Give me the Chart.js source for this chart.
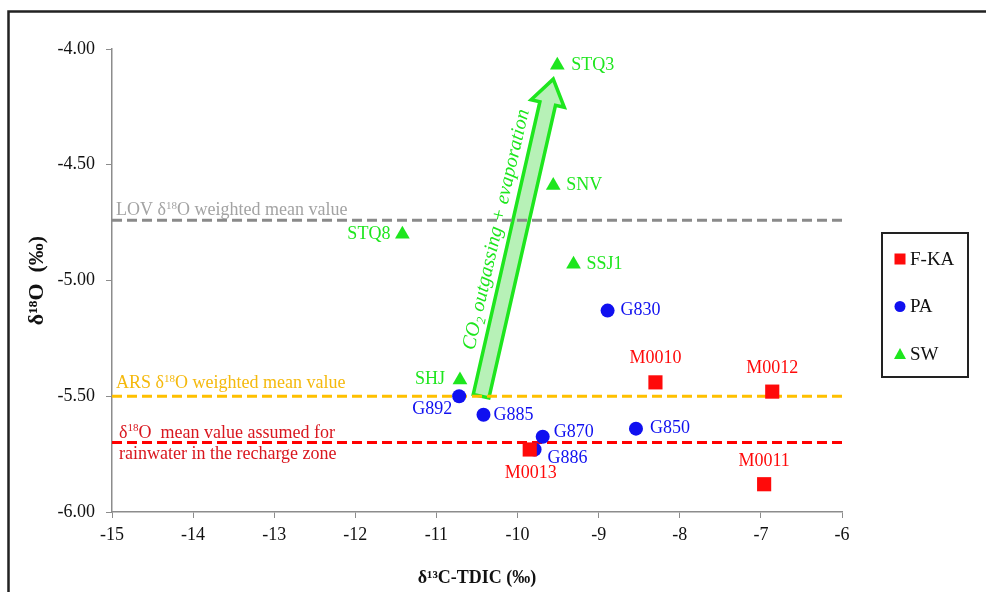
<!DOCTYPE html>
<html>
<head>
<meta charset="utf-8">
<script src="https://cdn.jsdelivr.net/npm/chart.js@4.4.1/dist/chart.umd.min.js"></script>
<style>
  html, body { margin: 0; padding: 0; background: #fff; }
  #wrap { width: 986px; height: 592px; }
</style>
</head>
<body>
<div id="wrap"><canvas id="isoChart" width="986" height="592"></canvas></div>
<script>
// F-KA wells
const fkaNames = ['M0010', 'M0012', 'M0013', 'M0011'];
const fkaX = [-8.30, -6.86, -9.85, -6.96];
const fkaY = [-5.44, -5.48, -5.73, -5.88];

// PA wells
const paNames = ['G830', 'G892', 'G885', 'G870', 'G886', 'G850'];
const paX = [-8.89, -10.72, -10.42, -9.69, -9.79, -8.54];
const paY = [-5.13, -5.50, -5.58, -5.675, -5.73, -5.64];

// SW (surface water)
const swNames = ['STQ3', 'SNV', 'STQ8', 'SSJ1', 'SHJ'];
const swX = [-9.51, -9.56, -11.42, -9.31, -10.71];
const swY = [-4.07, -4.59, -4.80, -4.93, -5.43];

// reference d18O values
const lovMean = -4.74;
const arsMean = -5.50;
const rainMean = -5.70;

// axis ranges
const xMin = -15, xMax = -6, xStep = 1;
const yMin = -6.0, yMax = -4.0, yStep = 0.5;

// trend arrow (tail -> tip, in data units)
const arrowFrom = { x: -10.45, y: -5.50 };
const arrowTo = { x: -9.56, y: -4.13 };

const SERIF = '"Liberation Serif", "Times New Roman", serif';
const GREEN = '#1ee61e';
const BLUE = '#1010f0';
const RED = '#ff0a0a';

const toPoints = (xs, ys) => xs.map((x, i) => ({ x: x, y: ys[i] }));
const hLine = v => [{ x: xMin, y: v }, { x: xMax, y: v }];

// where each point's name goes, relative to its marker
const labelPos = {
    M0010: ['c', 0, -24], M0012: ['c', 0, -23], M0013: ['c', 1, 24], M0011: ['c', 0, -23],
    G830: ['l', 13, 0], G892: ['r', -7, 13], G885: ['l', 10, 0], G870: ['l', 11, -4],
    G886: ['l', 13, 9], G850: ['l', 14, 0],
    STQ3: ['l', 14, 0], SNV: ['l', 13, 0], STQ8: ['r', -12, 0], SSJ1: ['l', 13, 0], SHJ: ['r', -15, -1]
};

// text with a small raised part: parts = [[text, sup?], ...]
function drawRich(ctx, parts, x, y, size) {
    let cx = x;
    parts.forEach(p => {
        const sup = p[1];
        ctx.font = (sup ? Math.round(size * 0.62) : size) + 'px ' + SERIF;
        ctx.fillText(p[0], cx, sup ? y - size * 0.36 : y);
        cx += ctx.measureText(p[0]).width;
    });
}

const decorPlugin = {
    id: 'decor',
    beforeDatasetsDraw(chart) {
        const ctx = chart.ctx;
        const xs = chart.scales.x, ys = chart.scales.y;
        const ax = xs.getPixelForValue(arrowFrom.x), ay = ys.getPixelForValue(arrowFrom.y);
        const bx = xs.getPixelForValue(arrowTo.x), by = ys.getPixelForValue(arrowTo.y);
        const len = Math.hypot(bx - ax, by - ay);
        const ux = (bx - ax) / len, uy = (by - ay) / len;
        const nx = -uy, ny = ux;
        const sw = 8, hw = 17, hl = 25;
        const hx = bx - ux * hl, hy = by - uy * hl;
        ctx.save();
        ctx.beginPath();
        ctx.moveTo(ax + nx * sw, ay + ny * sw);
        ctx.lineTo(hx + nx * sw, hy + ny * sw);
        ctx.lineTo(hx + nx * hw, hy + ny * hw);
        ctx.lineTo(bx, by);
        ctx.lineTo(hx - nx * hw, hy - ny * hw);
        ctx.lineTo(hx - nx * sw, hy - ny * sw);
        ctx.lineTo(ax - nx * sw, ay - ny * sw);
        ctx.closePath();
        ctx.fillStyle = 'rgba(175, 240, 175, 0.9)';
        ctx.fill();
        ctx.lineWidth = 3.5;
        ctx.lineJoin = 'miter';
        ctx.strokeStyle = GREEN;
        ctx.stroke();

        // rotated caption along the arrow
        const t = 0.51;
        const cx = ax + (bx - ax) * t - nx * 22, cy = ay + (by - ay) * t - ny * 22;
        ctx.translate(cx, cy);
        ctx.rotate(Math.atan2(uy, ux));
        ctx.fillStyle = GREEN;
        ctx.textBaseline = 'middle';
        const big = 'italic 20px ' + SERIF, small = 'italic 13px ' + SERIF;
        const p1 = 'CO', p2 = '2', p3 = ' outgassing + evaporation';
        ctx.font = big;
        const w1 = ctx.measureText(p1).width, w3 = ctx.measureText(p3).width;
        ctx.font = small;
        const w2 = ctx.measureText(p2).width;
        const sx = -(w1 + w2 + w3) / 2;
        ctx.font = big;
        ctx.fillText(p1, sx, 0);
        ctx.font = small;
        ctx.fillText(p2, sx + w1, 6);
        ctx.font = big;
        ctx.fillText(p3, sx + w1 + w2, 0);
        ctx.restore();
    },
    afterDatasetsDraw(chart) {
        const ctx = chart.ctx;
        const xs = chart.scales.x, ys = chart.scales.y;
        const left = chart.chartArea.left;
        ctx.save();
        ctx.textBaseline = 'alphabetic';
        ctx.textAlign = 'left';

        // reference line captions
        ctx.fillStyle = '#a3a3a3';
        drawRich(ctx, [['LOV δ'], ['18', 1], ['O weighted mean value']], left + 4, ys.getPixelForValue(lovMean) - 5, 18);
        ctx.fillStyle = '#f5b90c';
        drawRich(ctx, [['ARS δ'], ['18', 1], ['O weighted mean value']], left + 4, ys.getPixelForValue(arsMean) - 8, 18);
        ctx.fillStyle = '#d9161e';
        drawRich(ctx, [['δ'], ['18', 1], ['O  mean value assumed for']], left + 7, ys.getPixelForValue(rainMean) - 5, 18);
        drawRich(ctx, [['rainwater in the recharge zone']], left + 7, ys.getPixelForValue(rainMean) + 16, 18);

        // point names
        ctx.font = '18px ' + SERIF;
        ctx.textBaseline = 'middle';
        const groups = [[fkaNames, fkaX, fkaY, RED], [paNames, paX, paY, BLUE], [swNames, swX, swY, GREEN]];
        groups.forEach(g => {
            ctx.fillStyle = g[3];
            g[0].forEach((name, i) => {
                const pos = labelPos[name];
                const px = xs.getPixelForValue(g[1][i]) + pos[1];
                const py = ys.getPixelForValue(g[2][i]) + pos[2];
                ctx.textAlign = pos[0] === 'c' ? 'center' : (pos[0] === 'r' ? 'right' : 'left');
                ctx.fillText(name, px, py);
            });
        });
        ctx.restore();
    },
    afterDraw(chart) {
        const ctx = chart.ctx;
        ctx.save();
        // outer frame
        ctx.strokeStyle = '#222';
        ctx.lineWidth = 2.5;
        ctx.beginPath();
        ctx.moveTo(8.5, 600);
        ctx.lineTo(8.5, 11.5);
        ctx.lineTo(1000, 11.5);
        ctx.stroke();

        // legend box
        const lx = 882, ly = 233, lw = 86, lh = 144;
        ctx.lineWidth = 2;
        ctx.strokeRect(lx, ly, lw, lh);
        const items = chart.data.datasets.filter(d => d.legend);
        ctx.font = '19px ' + SERIF;
        ctx.textBaseline = 'middle';
        ctx.textAlign = 'left';
        items.forEach((d, i) => {
            const cy = ly + 26 + i * 47.5;
            const mx = lx + 18;
            ctx.fillStyle = d.backgroundColor;
            if (d.pointStyle === 'rect') {
                ctx.fillRect(mx - 5.5, cy - 5.5, 11, 11);
            } else if (d.pointStyle === 'circle') {
                ctx.beginPath();
                ctx.arc(mx, cy, 5.5, 0, Math.PI * 2);
                ctx.fill();
            } else {
                ctx.beginPath();
                ctx.moveTo(mx, cy - 6);
                ctx.lineTo(mx + 6, cy + 5);
                ctx.lineTo(mx - 6, cy + 5);
                ctx.closePath();
                ctx.fill();
            }
            ctx.fillStyle = '#111';
            ctx.fillText(d.label, lx + 28, cy + 1);
        });
        ctx.restore();
    }
};

const ctx = document.getElementById('isoChart').getContext('2d');
new Chart(ctx, {
    type: 'scatter',
    data: {
        datasets: [
            { label: 'F-KA', legend: true, data: toPoints(fkaX, fkaY), pointStyle: 'rect', pointRadius: 10,
              backgroundColor: RED, borderColor: RED, borderWidth: 0, order: 1 },
            { label: 'PA', legend: true, data: toPoints(paX, paY), pointStyle: 'circle', pointRadius: 7,
              backgroundColor: BLUE, borderColor: BLUE, borderWidth: 0, order: 1 },
            { label: 'SW', legend: true, data: toPoints(swX, swY), pointStyle: 'triangle', pointRadius: 8.5,
              backgroundColor: GREEN, borderColor: GREEN, borderWidth: 0, order: 1 },
            { type: 'line', label: 'LOV', data: hLine(lovMean), borderColor: '#8a8a8a', borderWidth: 3,
              borderDash: [10, 5], pointRadius: 0, order: 2 },
            { type: 'line', label: 'ARS', data: hLine(arsMean), borderColor: '#ffc000', borderWidth: 3,
              borderDash: [10, 5], pointRadius: 0, order: 2 },
            { type: 'line', label: 'rain', data: hLine(rainMean), borderColor: '#ff0000', borderWidth: 3,
              borderDash: [10, 5], pointRadius: 0, order: 2 }
        ]
    },
    options: {
        responsive: false,
        animation: false,
        layout: { padding: { left: 22, top: 49, right: 144, bottom: 0 } },
        plugins: { legend: { display: false }, tooltip: { enabled: false } },
        scales: {
            x: {
                type: 'linear',
                min: xMin, max: xMax,
                afterFit: s => { s.height = 80; },
                ticks: { stepSize: xStep, padding: 6, color: '#111', font: { family: SERIF, size: 18 } },
                grid: { drawOnChartArea: false, drawTicks: true, tickLength: 6, color: '#8c8c8c' },
                border: { color: '#8c8c8c', width: 1.5 },
                title: { display: true, text: 'δ¹³C-TDIC (‰)', color: '#111', padding: { top: 3, bottom: 3 },
                         font: { family: SERIF, size: 18, weight: 'bold' } }
            },
            y: {
                type: 'linear',
                min: yMin, max: yMax,
                afterFit: s => { s.width = 90; },
                ticks: { stepSize: yStep, padding: 11, color: '#111', font: { family: SERIF, size: 18 },
                         callback: v => v.toFixed(2) },
                grid: { drawOnChartArea: false, drawTicks: true, tickLength: 6, color: '#8c8c8c' },
                border: { color: '#8c8c8c', width: 1.5 },
                title: { display: true, text: 'δ¹⁸O  (‰)', color: '#111', padding: { top: 2, bottom: 2 },
                         font: { family: SERIF, size: 22, weight: 'bold' } }
            }
        }
    },
    plugins: [decorPlugin]
});
</script>
</body>
</html>
